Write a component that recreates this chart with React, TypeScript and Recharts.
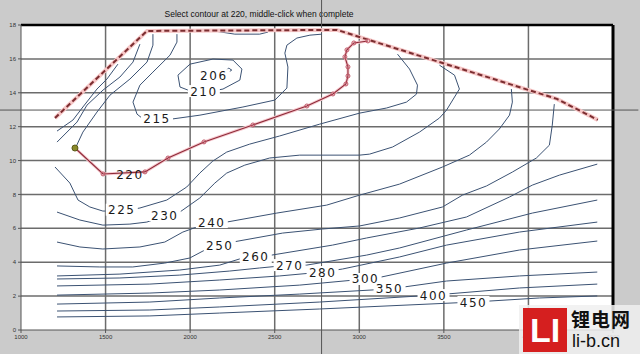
import { ComposedChart, Line, XAxis, YAxis, ReferenceLine, ReferenceDot } from 'recharts';

type Pt = [number, number];

const xTicks = [1000, 1500, 2000, 2500, 3000, 3500, 4000, 4500];
const yTicks = [0, 2, 4, 6, 8, 10, 12, 14, 16, 18];

// boundary (full-load curve), dashed
const boundary: Pt[] = [[1201, 12.51], [1745, 17.65], [2868, 17.71], [4168, 13.64], [4410, 12.4]];

// user-picked 220 contour
const picked220: Pt[] = [
  [1319, 10.74], [1485, 9.21], [1733, 9.33], [1869, 10.15], [2082, 11.1], [2371, 12.1], [2690, 13.22],
  [2844, 13.93], [2921, 14.52], [2933, 14.99], [2933, 15.53], [2915, 16.12], [2927, 16.53], [2968, 16.94], [3051, 17.06],
];

// unlabelled lines in the upper-left corner
const edgeA: Pt[] = [[1213, 11.74], [1307, 12.39], [1366, 13.16], [1449, 14.22], [1508, 14.81], [1573, 15.69]];
const edgeB: Pt[] = [[1213, 11.09], [1331, 12.27], [1390, 13.27], [1485, 14.16], [1585, 14.93], [1662, 15.81], [1703, 16.87]];
const edgeC: Pt[] = [[1319, 10.68], [1366, 11.68], [1449, 12.86], [1526, 13.86], [1644, 14.81], [1745, 15.81], [1780, 16.81], [1780, 17.46]];
const topArc: Pt[] = [[2146, 17.64], [2264, 17.46], [2411, 17.46], [2460, 17.58]];

const c206: Pt[] = [[2210, 15.3], [2228, 15.45], [2246, 15.34], [2228, 15.22], [2210, 15.3]];
const c210: Pt[] = [
  [2194, 14.22], [2130, 14.1], [1987, 14.16], [1940, 14.34], [1928, 15.04], [1999, 15.69], [2135, 15.99],
  [2253, 15.93], [2306, 15.4], [2294, 14.75], [2194, 14.22],
];
const c215: Pt[] = [
  [1922, 17.46], [1922, 16.99], [1881, 16.22], [1780, 15.22], [1703, 14.45], [1662, 13.45], [1686, 12.74],
  [1715, 12.51], [1804, 12.5], [1892, 12.45], [2058, 12.68], [2312, 13.16], [2501, 13.57], [2572, 14.28],
  [2578, 15.52], [2560, 16.34], [2572, 16.81], [2631, 17.23], [2708, 17.4], [2779, 17.46],
];
const c225: Pt[] = [
  [1201, 9.62], [1289, 8.67], [1337, 7.67], [1407, 7.26], [1484, 7.02], [1596, 7.02], [1703, 7.2], [1862, 7.67],
  [1980, 8.44], [2057, 9.26], [2134, 9.97], [2216, 10.5], [2352, 10.97], [2529, 11.45], [2766, 12.15],
  [3002, 12.8], [3161, 13.1], [3279, 13.45], [3338, 13.92], [3344, 14.45], [3297, 15.4], [3226, 16.28],
];
const c230: Pt[] = [
  [1213, 6.96], [1348, 6.49], [1484, 6.19], [1644, 6.25], [1744, 6.37], [1850, 6.73], [1939, 6.96], [2057, 7.79],
  [2146, 8.67], [2216, 9.26], [2323, 9.73], [2470, 10.15], [2648, 10.32], [3002, 10.32], [3061, 10.38],
  [3197, 10.8], [3356, 11.68], [3474, 12.51], [3516, 12.98], [3592, 14.22], [3563, 15.04], [3474, 15.63],
];
const c240: Pt[] = [
  [1213, 5.19], [1348, 4.9], [1484, 4.78], [1703, 4.9], [1850, 5.19], [1957, 5.78], [2057, 6.14], [2128, 6.37],
  [2216, 6.37], [2512, 6.9], [2807, 7.37], [3002, 7.96], [3238, 8.61], [3492, 9.62], [3651, 10.32],
  [3752, 11.09], [3828, 11.86], [3888, 12.68], [3905, 13.45], [3899, 14.22],
];
const c250: Pt[] = [
  [1213, 3.78], [1466, 3.72], [1661, 3.72], [1850, 3.95], [1998, 4.25], [2087, 4.72], [2175, 5.01], [2252, 5.19],
  [2547, 5.72], [2783, 5.96], [3002, 6.14], [3238, 6.61], [3492, 7.26], [3610, 7.96], [3752, 8.5],
  [3905, 9.32], [4047, 10.15], [4124, 10.91], [4141, 12.09], [4153, 13.33],
];
const c260: Pt[] = [
  [1213, 3.19], [1585, 3.3], [1939, 3.54], [2175, 3.83], [2311, 4.25], [2394, 4.31], [2482, 4.42], [2842, 5.01],
  [3043, 5.43], [3356, 6.02], [3634, 6.67], [3888, 7.85], [4023, 8.55], [4183, 9.14], [4407, 9.79],
];
const c270: Pt[] = [
  [1213, 3.01], [1585, 3.07], [1939, 3.24], [2234, 3.48], [2411, 3.66], [2588, 3.83], [2689, 3.83],
  [3043, 4.42], [3238, 4.84], [3634, 5.9], [4023, 6.9], [4407, 7.67],
];
const c280: Pt[] = [
  [1213, 2.6], [1762, 2.71], [2175, 2.95], [2529, 3.19], [2783, 3.42], [2901, 3.6], [3238, 4.31],
  [3516, 5.01], [3947, 5.78], [4407, 6.37],
];
const c300: Pt[] = [
  [1213, 2.06], [1762, 2.18], [2175, 2.36], [2648, 2.65], [3037, 3.01], [3132, 3.13], [3516, 3.95],
  [3947, 4.72], [4407, 5.25],
];
const c350: Pt[] = [[1213, 1.53], [1762, 1.65], [2175, 1.89], [2648, 2.12], [3179, 2.42], [3516, 2.89], [3947, 3.19], [4407, 3.42]];
const c400: Pt[] = [[1213, 1.12], [1762, 1.18], [2175, 1.36], [2766, 1.65], [3439, 2.06], [3947, 2.48], [4407, 2.71]];
const c450: Pt[] = [[1213, 0.77], [1762, 0.83], [2175, 1.0], [2766, 1.24], [3675, 1.65], [4065, 1.89], [4407, 2.01]];

const contours: Pt[][] = [
  edgeA, edgeB, edgeC, topArc, c206, c210, c215, c225, c230, c240, c250, c260, c270, c280, c300, c350, c400, c450,
];

// contour labels: text and where it sits
const labelText = ['206', '210', '215', '225', '230', '240', '250', '260', '270', '280', '300', '350', '400', '450'];
const labelX = [2140, 2081, 1804, 1596, 1850, 2128, 2175, 2388, 2588, 2783, 3037, 3179, 3439, 3675];
const labelY = [15.04, 14.1, 12.5, 7.1, 6.78, 6.37, 5.01, 4.31, 3.83, 3.42, 3.01, 2.42, 2.06, 1.65];

const cursorX = 2777;
const cursorY = 12.98;

const rows = (pts: Pt[]) => pts.map(([x, y]) => ({ x, y }));

// grid drawn as plain line series across the axes range
const gridX = xTicks.slice(1, -1).map((v) => [{ x: v, y: 0 }, { x: v, y: 18 }]);
const gridY = yTicks.slice(1, -1).map((v) => [{ x: 1000, y: v }, { x: 4500, y: v }]);

const blue = '#3b5273';
const gridColor = '#6c6c6c';
const font = '"DejaVu Sans", sans-serif';

function ContourLabel({ cx, cy, text, boxed = true }: { cx: number; cy: number; text: string; boxed?: boolean }) {
  return (
    <g>
      {boxed && <rect x={cx - 16} y={cy - 6} width={32} height={12} fill="#fff" />}
      <text x={cx} y={cy} dy={4.5} textAnchor="middle" fontSize={12} letterSpacing={1.5} fontFamily={font} fill="#1a1a1a">
        {text}
      </text>
    </g>
  );
}

export default function App() {
  return (
    <div style={{ position: 'relative', width: 640, height: 354, background: '#cbcbcb', overflow: 'hidden', fontFamily: '"Liberation Sans", Arial, sans-serif' }}>
      <style>{'body{margin:0}'}</style>
      {/* white axes background sits behind the svg */}
      <div style={{ position: 'absolute', left: 21, top: 25, width: 592, height: 305, background: '#fff' }} />
      <div style={{ position: 'absolute', left: 0, width: 518, top: 9, textAlign: 'center', fontSize: 8.5, color: '#111' }}>
        Select contour at 220, middle-click when complete
      </div>
      <ComposedChart width={640} height={354} margin={{ top: 25, right: 27, bottom: 0, left: 0 }} style={{ position: 'absolute', left: 0, top: 0 }}>
        <XAxis
          type="number"
          dataKey="x"
          domain={[1000, 4500]}
          ticks={xTicks}
          height={24}
          tickSize={3}
          tick={{ fontSize: 6, fill: '#333' }}
          stroke="#555"
          allowDataOverflow
        />
        <YAxis
          type="number"
          dataKey="y"
          domain={[0, 18]}
          ticks={yTicks}
          width={21}
          tickSize={3}
          tick={{ fontSize: 6, fill: '#333' }}
          stroke="#555"
          allowDataOverflow
        />
        {[...gridX, ...gridY].map((g, i) => (
          <Line key={'g' + i} data={g} dataKey="y" stroke={gridColor} strokeWidth={1.5} dot={false} isAnimationActive={false} />
        ))}
        <ReferenceLine y={18} stroke="#000" strokeWidth={2.5} />
        <ReferenceLine x={4500} stroke="#000" strokeWidth={3} />
        <ReferenceLine
          segment={[{ x: cursorX, y: -1.6 }, { x: cursorX, y: 19.6 }]}
          ifOverflow="visible"
          stroke="#555"
          strokeWidth={1}
        />
        <ReferenceLine
          segment={[{ x: 830, y: cursorY }, { x: 4650, y: cursorY }]}
          ifOverflow="visible"
          stroke="#555"
          strokeWidth={1}
        />
        {contours.map((c, i) => (
          <Line
            key={'c' + i}
            data={rows(c)}
            dataKey="y"
            type="linear"
            stroke={blue}
            strokeWidth={1}
            dot={false}
            isAnimationActive={false}
          />
        ))}
        <Line data={rows(boundary)} dataKey="y" type="linear" stroke="#f6c6c6" strokeWidth={4} dot={false} isAnimationActive={false} />
        <Line data={rows(boundary)} dataKey="y" type="linear" stroke="#7b2d30" strokeWidth={2} strokeDasharray="5 3" dot={false} isAnimationActive={false} />
        <Line data={rows(picked220)} dataKey="y" type="linear" stroke="#f6c9cf" strokeWidth={3} dot={false} isAnimationActive={false} />
        <Line
          data={rows(picked220)}
          dataKey="y"
          type="linear"
          stroke="#8e2a38"
          strokeWidth={1.1}
          dot={{ r: 2, stroke: '#c05566', strokeWidth: 1, fill: 'none' }}
          isAnimationActive={false}
        />
        <ReferenceDot x={picked220[0][0]} y={picked220[0][1]} r={3} fill="#8a8a2a" stroke="#5a5a1a" />
        {labelText.map((t, i) => (
          <ReferenceDot
            key={'l' + t}
            x={labelX[i]}
            y={labelY[i]}
            r={0}
            shape={(p: any) => <ContourLabel cx={p.cx} cy={p.cy} text={t} />}
          />
        ))}
        <ReferenceDot x={1644} y={9.2} r={0} shape={(p: any) => <ContourLabel cx={p.cx} cy={p.cy} text="220" boxed={false} />} />
      </ComposedChart>
      <div style={{ position: 'absolute', left: 519, top: 305, width: 121, height: 49, background: 'rgba(240,240,240,0.85)' }}>
        <div style={{ position: 'absolute', left: 4, top: 3, width: 44, height: 44, background: '#d51f1f', color: '#fff', fontWeight: 'bold', fontSize: 34, lineHeight: '44px', textAlign: 'center', fontFamily: '"Liberation Sans", sans-serif' }}>
          LI
        </div>
        <div style={{ position: 'absolute', left: 52, top: 3, fontSize: 19, fontWeight: 'bold', color: '#111', fontFamily: '"Noto Sans CJK SC", sans-serif', lineHeight: '22px', letterSpacing: 1 }}>
          锂电网
        </div>
        <div style={{ position: 'absolute', left: 53, top: 26, fontSize: 18, color: '#111', fontFamily: '"Liberation Sans", sans-serif', lineHeight: '20px' }}>
          li-b.cn
        </div>
      </div>
    </div>
  );
}
